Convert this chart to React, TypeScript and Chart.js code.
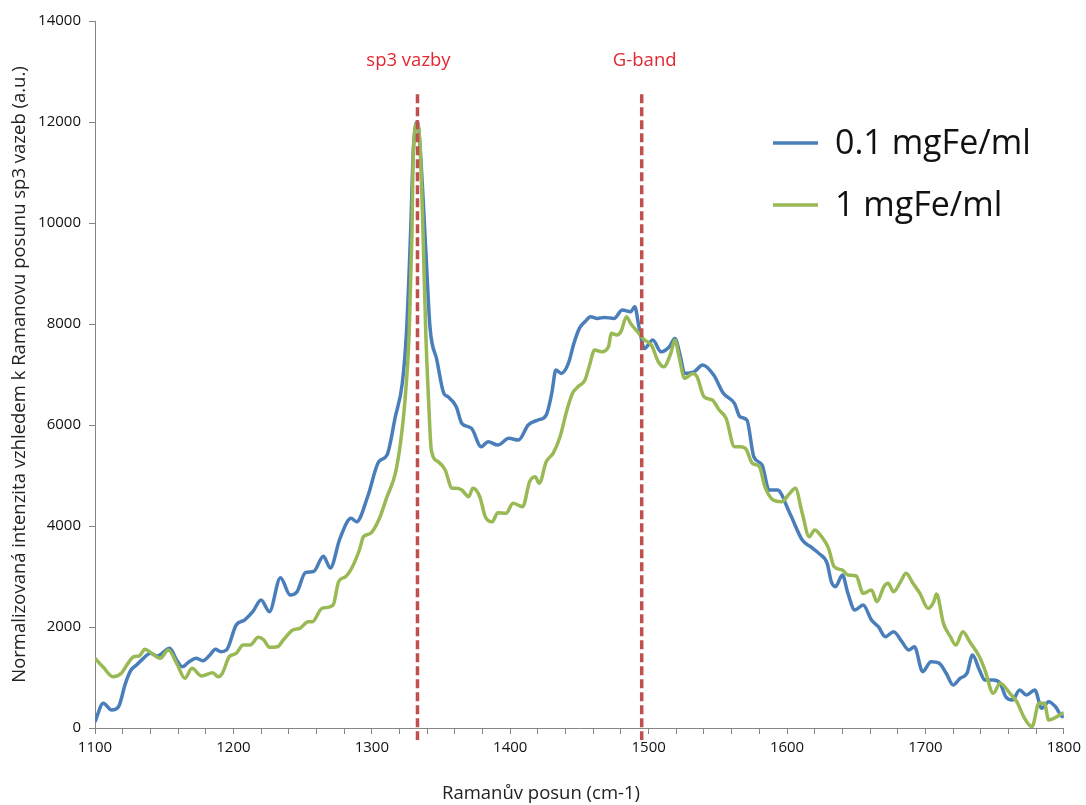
import React, { useEffect, useRef } from "react";
import { Chart, registerables } from "chart.js";

Chart.register(...registerables);

// ---- data ----
const seriesNames = ["0.1 mgFe/ml", "1 mgFe/ml"];

const blueX = [
  1100, 1106, 1112, 1117, 1122, 1126, 1130, 1135, 1140, 1145,
  1154, 1159, 1163, 1168, 1173, 1178, 1183, 1187, 1191, 1195,
  1202, 1208, 1214, 1220, 1226, 1234, 1241, 1246, 1252, 1258,
  1265, 1270, 1277, 1285, 1289, 1297, 1305, 1311, 1317, 1322,
  1325, 1328, 1330, 1333, 1335, 1339, 1342, 1347, 1352, 1355,
  1361, 1365, 1372, 1379, 1384, 1391, 1399, 1406, 1413, 1420,
  1426, 1430, 1433, 1437, 1442, 1446, 1450, 1454, 1458, 1463,
  1468, 1475, 1481, 1487, 1490, 1493, 1497, 1503, 1509, 1515,
  1519, 1523, 1526, 1533, 1539, 1547, 1554, 1562, 1566, 1571,
  1576, 1582, 1587, 1593, 1602, 1611, 1617, 1623, 1629, 1632,
  1635, 1640, 1644, 1649, 1655, 1661, 1666, 1671, 1677, 1683,
  1688, 1692, 1698, 1704, 1710, 1715, 1720, 1725, 1730, 1734,
  1739, 1743, 1749, 1754, 1758, 1763, 1768, 1773, 1779, 1784,
  1789, 1794, 1799, 1800,
];
const blueY = [
  125, 490, 356, 422, 885, 1148, 1247, 1380, 1479, 1426,
  1578, 1346, 1214, 1313, 1380, 1333, 1445, 1558, 1511, 1544,
  2039, 2138, 2303, 2534, 2303, 2976, 2633, 2699, 3075, 3100,
  3400, 3170, 3756, 4152, 4085, 4580, 5273, 5405, 6164, 6825,
  7815, 9795, 11444, 12005, 11444, 9464, 7946, 7286, 6627, 6560,
  6362, 6033, 5935, 5570, 5669, 5603, 5736, 5702, 6000, 6098,
  6197, 6627, 7088, 7022, 7220, 7616, 7913, 8045, 8144, 8111,
  8131, 8111, 8276, 8243, 8342, 7946, 7517, 7682, 7451, 7550,
  7715, 7352, 7022, 7055, 7187, 6989, 6627, 6428, 6164, 6098,
  5372, 5207, 4712, 4712, 4251, 3722, 3590, 3458, 3260, 2897,
  2798, 3029, 2666, 2336, 2435, 2138, 2006, 1808, 1907, 1709,
  1544, 1610, 1115, 1313, 1281, 1083, 851, 984, 1083, 1445,
  1148, 950, 950, 884, 620, 554, 752, 653, 752, 390,
  521, 422, 224, 250,
];

const greenX = [
  1100, 1106, 1113, 1119, 1123, 1128, 1132, 1136, 1141, 1147,
  1153, 1159, 1165, 1170, 1177, 1185, 1189, 1192, 1197, 1202,
  1207, 1212, 1218, 1222, 1226, 1232, 1236, 1243, 1248, 1254,
  1257, 1264, 1272, 1276, 1281, 1286, 1291, 1294, 1299, 1305,
  1311, 1317, 1321, 1324, 1327, 1329, 1330, 1333, 1335, 1337,
  1339, 1341, 1343, 1348, 1353, 1358, 1361, 1365, 1370, 1373,
  1378, 1382, 1387, 1391, 1397, 1402, 1409, 1414, 1418, 1421,
  1426, 1431, 1436, 1441, 1445, 1449, 1454, 1457, 1461, 1466,
  1471, 1473, 1477, 1480, 1484, 1487, 1492, 1497, 1502, 1507,
  1511, 1516, 1519, 1522, 1526, 1532, 1535, 1540, 1546, 1551,
  1556, 1562, 1566, 1570, 1575, 1580, 1584, 1590, 1596, 1602,
  1606, 1611, 1616, 1620, 1625, 1630, 1634, 1640, 1644, 1650,
  1655, 1661, 1665, 1670, 1673, 1677, 1682, 1686, 1691, 1696,
  1702, 1706, 1708, 1713, 1718, 1722, 1727, 1732, 1739, 1743,
  1749, 1754, 1761, 1766, 1771, 1777, 1782, 1786, 1789, 1795,
  1799, 1800,
];
const greenY = [
  1380, 1202, 1016, 1083, 1247, 1412, 1426, 1558, 1479, 1380,
  1544, 1281, 984, 1182, 1030, 1095, 1016, 1083, 1412, 1479,
  1643, 1643, 1796, 1742, 1598, 1610, 1742, 1940, 1973, 2105,
  2105, 2370, 2435, 2897, 2996, 3194, 3524, 3788, 3854, 4118,
  4580, 5042, 5702, 6494, 7815, 9795, 11444, 11972, 11444, 9795,
  7815, 6494, 5504, 5273, 5108, 4746, 4746, 4712, 4580, 4746,
  4580, 4185, 4085, 4263, 4251, 4449, 4383, 4877, 4976, 4845,
  5273, 5439, 5768, 6296, 6627, 6758, 6890, 7154, 7484, 7451,
  7550, 7815, 7781, 7847, 8144, 8012, 7847, 7682, 7583, 7253,
  7154, 7418, 7682, 7352, 6923, 7022, 6956, 6560, 6494, 6296,
  6131, 5570, 5570, 5538, 5240, 5174, 4778, 4514, 4481, 4647,
  4746, 4251, 3788, 3920, 3788, 3557, 3194, 3128, 3029, 3010,
  2666, 2732, 2501, 2798, 2864, 2699, 2897, 3062, 2864, 2666,
  2369, 2501, 2653, 2072, 1808, 1643, 1907, 1709, 1412, 1148,
  687, 884, 687, 521, 224, 26, 489, 489, 158, 224,
  290, 300,
];

const markerX = [1333, 1495];
const markerLabels = ["sp3 vazby", "G-band"];
const markerTop = 12550;

const xTitle = "Ramanův posun (cm-1)";
const yTitle = "Normalizovaná intenzita vzhledem k Ramanovu posunu sp3 vazeb (a.u.)";

// ---- style ----
const FONT = "'Open Sans', 'Liberation Sans', sans-serif";
const BLUE = "#4A7EBB";
const GREEN = "#98B954";
const RED = "#C0504D";
const RED_TEXT = "#E3262F";
const AXIS = "#868686";

function toPoints(xs: number[], ys: number[]) {
  return xs.map((x, i) => ({ x, y: ys[i] }));
}

export default function App() {
  const ref = useRef<HTMLCanvasElement | null>(null);

  useEffect(() => {
    const canvas = ref.current;
    if (!canvas) return;

    const overlay = {
      id: "overlay",
      afterDatasetsDraw(chart: any) {
        const ctx = chart.ctx;
        const xs = chart.scales.x;
        const ys = chart.scales.y;
        const area = chart.chartArea;
        ctx.save();
        ctx.strokeStyle = RED;
        ctx.lineWidth = 3.5;
        ctx.setLineDash([9, 4]);
        markerX.forEach((mx) => {
          const px = xs.getPixelForValue(mx);
          ctx.beginPath();
          ctx.moveTo(px, ys.getPixelForValue(markerTop));
          ctx.lineTo(px, area.bottom + 12);
          ctx.stroke();
        });
        ctx.setLineDash([]);
        ctx.fillStyle = RED_TEXT;
        ctx.font = `18.5px ${FONT}`;
        ctx.textAlign = "center";
        ctx.textBaseline = "middle";
        const dx = [-9, 3];
        markerLabels.forEach((t, i) => {
          const px = xs.getPixelForValue(markerX[i]);
          ctx.fillText(t, px + dx[i], 61);
        });
        ctx.restore();
      },
      afterDraw(chart: any) {
        const ctx = chart.ctx;
        const area = chart.chartArea;
        ctx.save();
        // axis titles
        ctx.fillStyle = "#222";
        ctx.font = `18.5px ${FONT}`;
        ctx.textAlign = "center";
        ctx.textBaseline = "middle";
        ctx.fillText(xTitle, 541, 794);
        ctx.save();
        ctx.translate(20, (area.top + area.bottom) / 2);
        ctx.rotate(-Math.PI / 2);
        ctx.fillText(yTitle, 0, 0);
        ctx.restore();
        // legend
        const colors = [BLUE, GREEN];
        const rows = [143, 205];
        ctx.font = `34px ${FONT}`;
        ctx.textAlign = "left";
        seriesNames.forEach((name, i) => {
          ctx.strokeStyle = colors[i];
          ctx.lineWidth = 3.5;
          ctx.beginPath();
          ctx.moveTo(773, rows[i]);
          ctx.lineTo(818, rows[i]);
          ctx.stroke();
          ctx.fillStyle = "#111";
          ctx.fillText(name, 835, rows[i] + 1);
        });
        ctx.restore();
      },
    };

    const chart = new Chart(canvas, {
      type: "line",
      data: {
        datasets: [
          {
            label: seriesNames[0],
            data: toPoints(blueX, blueY),
            borderColor: BLUE,
            backgroundColor: BLUE,
            borderWidth: 3.5,
            pointRadius: 0,
            cubicInterpolationMode: "monotone",
            order: 1,
          },
          {
            label: seriesNames[1],
            data: toPoints(greenX, greenY),
            borderColor: GREEN,
            backgroundColor: GREEN,
            borderWidth: 3.5,
            pointRadius: 0,
            cubicInterpolationMode: "monotone",
            order: 0,
          },
        ],
      },
      options: {
        responsive: false,
        animation: false,
        layout: { padding: { top: 21, right: 16, left: 0, bottom: 0 } },
        plugins: {
          legend: { display: false },
          tooltip: { enabled: false },
          title: { display: false },
        },
        scales: {
          x: {
            type: "linear",
            min: 1100,
            max: 1800,
            afterFit: (s: any) => {
              s.height = 77;
            },
            ticks: {
              stepSize: 20,
              autoSkip: false,
              maxRotation: 0,
              padding: 5,
              color: "#111",
              font: { family: FONT, size: 15 },
              callback: (v: any) => (Number(v) % 100 === 0 ? String(v) : ""),
            },
            grid: {
              drawOnChartArea: false,
              drawTicks: true,
              tickLength: 6,
              color: AXIS,
            },
            border: { color: AXIS, width: 1 },
          },
          y: {
            min: 0,
            max: 14000,
            afterFit: (s: any) => {
              s.width = 95;
            },
            ticks: {
              stepSize: 2000,
              padding: 8,
              color: "#111",
              font: { family: FONT, size: 15 },
              callback: (v: any) => String(v),
            },
            grid: {
              drawOnChartArea: false,
              drawTicks: true,
              tickLength: 6,
              color: AXIS,
            },
            border: { color: AXIS, width: 1 },
          },
        },
      },
      plugins: [overlay],
    });

    return () => chart.destroy();
  }, []);

  return (
    <div
      style={{
        position: "fixed",
        left: 0,
        top: 0,
        width: 1086,
        height: 805,
        background: "#fff",
      }}
    >
      <canvas ref={ref} width={1086} height={805} />
    </div>
  );
}
